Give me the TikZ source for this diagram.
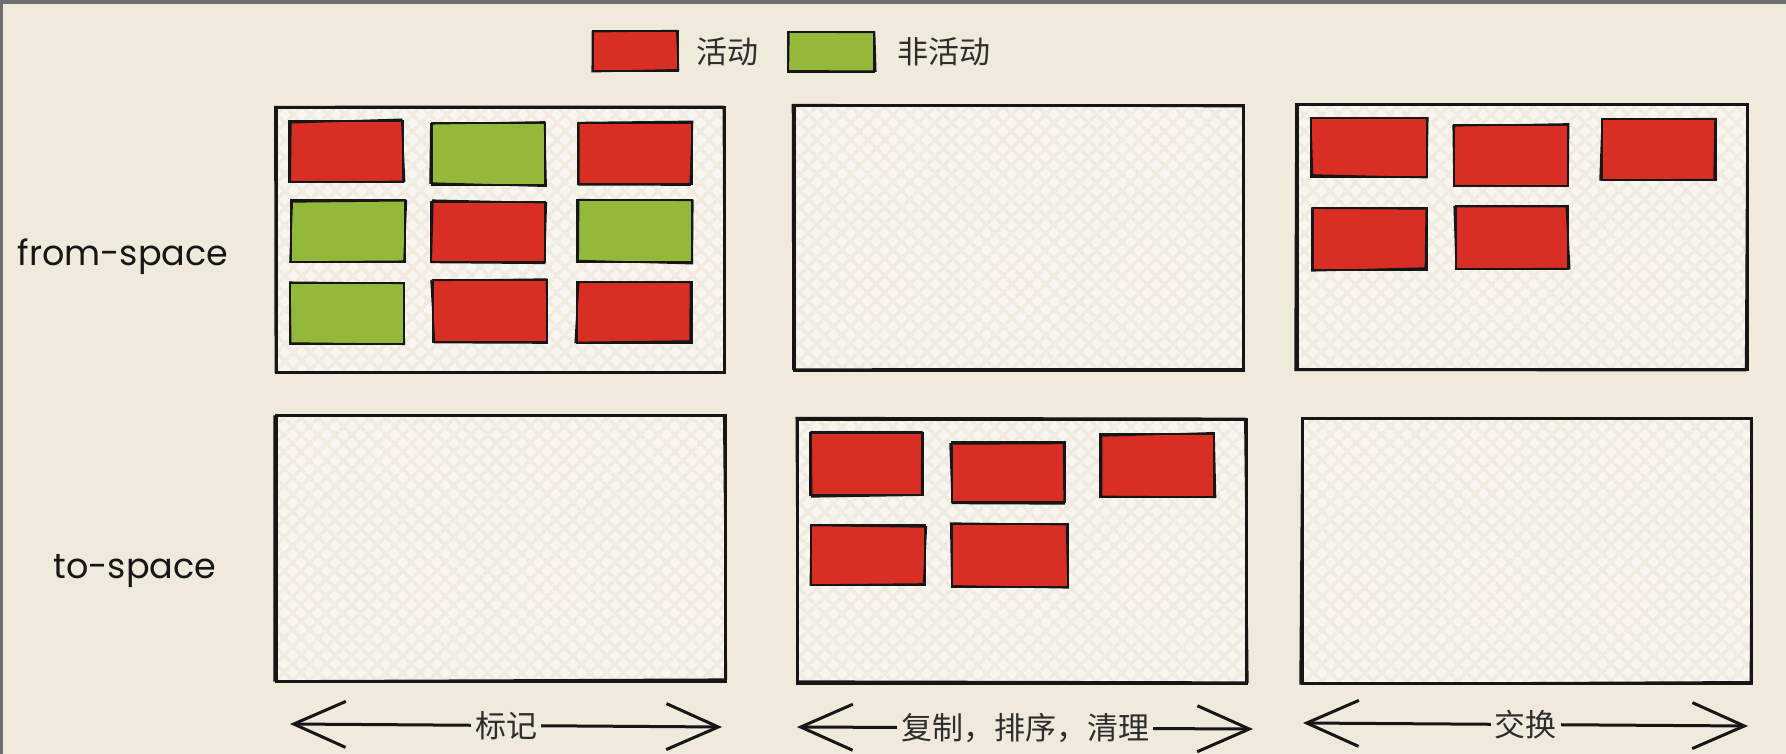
\documentclass[tikz,border=0pt]{standalone}
\usepackage{fontspec}
\newfontfamily\cjk{Noto Sans CJK SC}
\newfontfamily\hand{Poppins}
\usetikzlibrary{patterns.meta,arrows.meta}
\definecolor{bg}{RGB}{240,234,220}
\definecolor{paper}{RGB}{248,246,240}
\definecolor{hatch}{RGB}{240,235,222}
\definecolor{act}{RGB}{217,46,36}
\definecolor{inact}{RGB}{148,184,58}
\definecolor{ink}{RGB}{22,22,22}
\definecolor{txt}{RGB}{45,45,45}
\definecolor{chrome}{RGB}{110,110,110}
\tikzset{
  panel/.style={draw=ink, line width=3pt, inner sep=0pt, outer sep=0pt,
    preaction={fill=paper},
    preaction={pattern={Lines[angle=45,distance=13pt,line width=4pt]}, pattern color=hatch},
    preaction={pattern={Lines[angle=-45,distance=13pt,line width=4pt]}, pattern color=hatch}},
  cell/.style={draw=ink, line width=2.8pt, inner sep=0pt, outer sep=0pt},
  rough/.style={draw=ink, line width=1.5pt},
  cjklabel/.style={font=\cjk\fontsize{31}{31}\selectfont, text=txt, inner sep=2pt},
  handlabel/.style={font=\hand\fontsize{35}{35}\selectfont, text=ink, inner sep=0pt},
  arr/.style={draw=ink, line width=3pt, {Straight Barb[length=52pt,width=46pt,line width=3pt]}-{Straight Barb[length=52pt,width=46pt,line width=3pt]}},
  gaplabel/.style={cjklabel, fill=bg, inner xsep=4pt, inner ysep=1pt}
}
\pgfmathsetseed{11}
\newcommand\skpass[1]{%
  \draw[rough] ([shift={({-2+4*rnd},{-2+4*rnd})}]#1.north west) -- ([shift={({-2+4*rnd},{-2+4*rnd})}]#1.north east)
    -- ([shift={({-2+4*rnd},{-2+4*rnd})}]#1.south east) -- ([shift={({-2+4*rnd},{-2+4*rnd})}]#1.south west) -- cycle;}
\newcommand\mkbox[6]{%
  \node[cell, fill=#6, minimum width={#4-#2}, minimum height={#5-#3}, anchor=north west] (#1) at (#2,#3) {};
  \skpass{#1}}
\newcommand\mkpanel[5]{%
  \node[panel, minimum width={#4-#2}, minimum height={#5-#3}, anchor=north west] (#1) at (#2,#3) {};
  \skpass{#1}}
\begin{document}
\begin{tikzpicture}[x=1pt,y=-1pt]
\useasboundingbox (0,0) rectangle (1786,754);
\fill[bg] (0,0) rectangle (1786,754);
\fill[chrome] (0,0) rectangle (1786,4);
\fill[chrome] (0,0) rectangle (3,754);

% legend
\mkbox{legA}{593}{31}{678}{71}{act}
\node[cjklabel, anchor=west] (legAt) at (694,52) {活动};
\mkbox{legI}{788}{32}{874}{72}{inact}
\node[cjklabel, anchor=west] (legIt) at (895,52) {非活动};

% row labels
\node[handlabel] (from) at (123,257) {from-space};
\node[handlabel] (to) at (135,571) {to-space};

% panels
\mkpanel{p1}{276}{108}{724}{372}
\mkpanel{p2}{794}{106}{1243}{370}
\mkpanel{p3}{1297}{105}{1747}{369}
\mkpanel{p4}{276}{415}{725}{681}
\mkpanel{p5}{797}{419}{1246}{683}
\mkpanel{p6}{1302}{418}{1751}{683}

% panel 1 cells
\mkbox{a11}{289}{121}{403}{182}{act}
\mkbox{a12}{432}{123}{545}{185}{inact}
\mkbox{a13}{578}{123}{692}{184}{act}
\mkbox{a21}{291}{200}{405}{262}{inact}
\mkbox{a22}{431}{202}{545}{262}{act}
\mkbox{a23}{577}{200}{692}{262}{inact}
\mkbox{a31}{290}{283}{404}{344}{inact}
\mkbox{a32}{433}{280}{547}{342}{act}
\mkbox{a33}{577}{282}{692}{343}{act}

% panel 3 cells
\mkbox{c1}{1311}{118}{1427}{177}{act}
\mkbox{c2}{1454}{125}{1568}{186}{act}
\mkbox{c3}{1602}{119}{1716}{180}{act}
\mkbox{c4}{1313}{208}{1427}{270}{act}
\mkbox{c5}{1456}{206}{1568}{269}{act}

% panel 5 cells
\mkbox{e1}{810}{433}{923}{495}{act}
\mkbox{e2}{952}{442}{1065}{502}{act}
\mkbox{e3}{1100}{434}{1214}{497}{act}
\mkbox{e4}{811}{525}{925}{585}{act}
\mkbox{e5}{952}{524}{1068}{587}{act}

% arrows
\coordinate (m1l) at (290,724);
\coordinate (m1r) at (722,727);
\draw[arr] (m1l) -- (m1r) node[gaplabel, midway] (m1t) {标记};
\coordinate (m2l) at (797,727);
\coordinate (m2r) at (1253,729);
\draw[arr] (m2l) -- (m2r) node[gaplabel, midway] (m2t) {复制，排序，清理};
\coordinate (m3l) at (1303,723);
\coordinate (m3r) at (1748,726);
\draw[arr] (m3l) -- (m3r) node[gaplabel, midway] (m3t) {交换};
\end{tikzpicture}
\end{document}
